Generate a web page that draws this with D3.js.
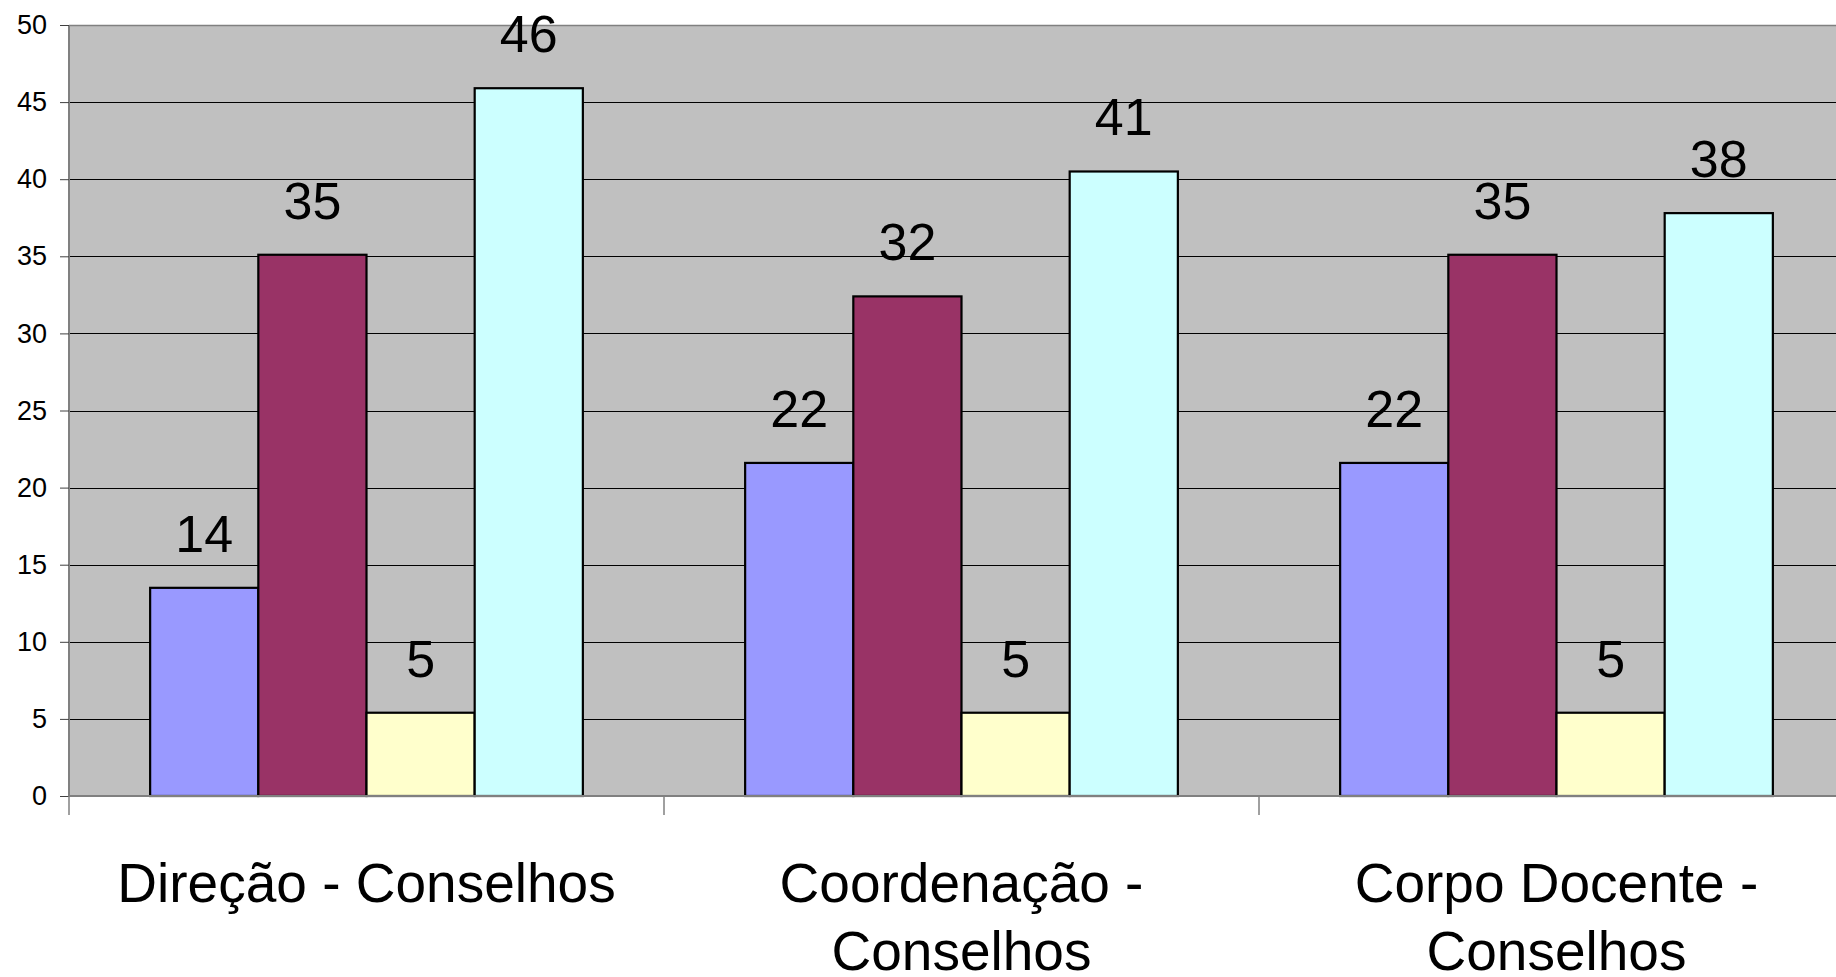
<!DOCTYPE html>
<html>
<head>
<meta charset="utf-8">
<script src="https://cdn.jsdelivr.net/npm/d3@7"></script>
<style>
  html, body { margin: 0; padding: 0; background: #ffffff; }
  svg { display: block; font-family: "Liberation Sans", Arial, sans-serif; }
</style>
</head>
<body>
<svg id="chart" width="1836" height="977"></svg>
<script>
const categories = ["Direção - Conselhos", "Coordenação - Conselhos", "Corpo Docente - Conselhos"];
const seriesNames = ["S1", "S2", "S3", "S4"];
const seriesColors = ["#9999FF", "#993366", "#FFFFCC", "#CCFFFF"];
const valuesS1 = [13.5, 21.6, 21.6];
const valuesS2 = [35.1, 32.4, 35.1];
const valuesS3 = [5.4, 5.4, 5.4];
const valuesS4 = [45.9, 40.5, 37.8];
const yTicks = [0, 5, 10, 15, 20, 25, 30, 35, 40, 45, 50];

const seriesValues = [valuesS1, valuesS2, valuesS3, valuesS4];

const svg = d3.select("#chart");
const W = 1836, H = 977;
const m = { left: 69, top: 25, bottom: 796 };
const catWidth = 595;
const plotRight = m.left + catWidth * categories.length;

const x0 = d3.scaleBand().domain(categories).range([m.left, plotRight]).paddingInner(0).paddingOuter(0);
const x1 = d3.scaleBand().domain(seriesNames).range([0, x0.bandwidth()]).paddingInner(0).paddingOuter(0.75);
const y = d3.scaleLinear().domain([0, 50]).range([m.bottom, m.top]);

// plot background
svg.append("rect")
  .attr("x", m.left).attr("y", m.top)
  .attr("width", plotRight - m.left).attr("height", m.bottom - m.top)
  .attr("fill", "#C0C0C0");

// gridlines
svg.append("g").selectAll("line").data(yTicks.filter(t => t > 0 && t < 50)).join("line")
  .attr("x1", m.left).attr("x2", plotRight)
  .attr("y1", d => Math.round(y(d)) + 0.5).attr("y2", d => Math.round(y(d)) + 0.5)
  .attr("stroke", "#000").attr("stroke-width", 1);

// top border
svg.append("line").attr("x1", m.left).attr("x2", plotRight)
  .attr("y1", m.top + 0.5).attr("y2", m.top + 0.5)
  .attr("stroke", "#808080").attr("stroke-width", 1.5);

// bars
const groups = svg.append("g").selectAll("g").data(categories).join("g")
  .attr("transform", d => `translate(${x0(d)},0)`);

groups.selectAll("rect").data((c, i) => seriesNames.map((s, j) => ({ s, j, v: seriesValues[j][i] }))).join("rect")
  .attr("x", d => x1(d.s))
  .attr("y", d => y(d.v))
  .attr("width", x1.bandwidth())
  .attr("height", d => y(0) - y(d.v))
  .attr("fill", d => seriesColors[d.j])
  .attr("stroke", "#000").attr("stroke-width", 2.2);

// value labels
groups.selectAll("text").data((c, i) => seriesNames.map((s, j) => ({ s, j, v: seriesValues[j][i] }))).join("text")
  .attr("x", d => x1(d.s) + x1.bandwidth() / 2)
  .attr("y", d => y(d.v) - 36)
  .attr("text-anchor", "middle")
  .attr("font-size", 52)
  .attr("fill", "#000")
  .text(d => Math.round(d.v));

// y axis
const yAxis = d3.axisLeft(y).tickValues(yTicks).tickSize(9).tickPadding(13);
const gy = svg.append("g").attr("transform", `translate(${m.left},0)`).call(yAxis);
gy.select(".domain").attr("stroke", "#808080").attr("stroke-width", 2).attr("d", `M0,${m.top}V${m.bottom}`);
gy.selectAll(".tick line").attr("stroke", "#404040");
gy.selectAll(".tick text").attr("font-size", 27).attr("fill", "#000")
  .attr("font-family", "'Liberation Sans', Arial, sans-serif");

// x axis
const gx = svg.append("g").attr("transform", `translate(0,${m.bottom})`);
gx.append("line").attr("x1", m.left).attr("x2", plotRight).attr("y1", 0).attr("y2", 0)
  .attr("stroke", "#808080").attr("stroke-width", 2);
const boundaries = categories.map(c => x0(c)).concat([plotRight]);
gx.selectAll("line.tk").data(boundaries).join("line").attr("class", "tk")
  .attr("x1", d => d).attr("x2", d => d).attr("y1", 0).attr("y2", 19)
  .attr("stroke", "#808080").attr("stroke-width", 1.5);

// category labels with wrapping
const labelFont = 55;
const maxW = catWidth - 20;
const measure = svg.append("text").attr("font-size", labelFont).attr("visibility", "hidden");
function wrap(str) {
  const words = str.split(" ");
  const lines = [];
  let cur = "";
  words.forEach(w => {
    const test = cur ? cur + " " + w : w;
    measure.text(test);
    if (measure.node().getComputedTextLength() > maxW && cur) {
      lines.push(cur);
      cur = w;
    } else cur = test;
  });
  if (cur) lines.push(cur);
  return lines;
}
categories.forEach(c => {
  const lines = wrap(c);
  const t = svg.append("text")
    .attr("x", x0(c) + x0.bandwidth() / 2)
    .attr("y", 902)
    .attr("text-anchor", "middle")
    .attr("font-size", labelFont)
    .attr("fill", "#000");
  lines.forEach((l, i) => {
    t.append("tspan").attr("x", x0(c) + x0.bandwidth() / 2).attr("dy", i === 0 ? 0 : 68).text(l);
  });
});
measure.remove();
</script>
</body>
</html>
